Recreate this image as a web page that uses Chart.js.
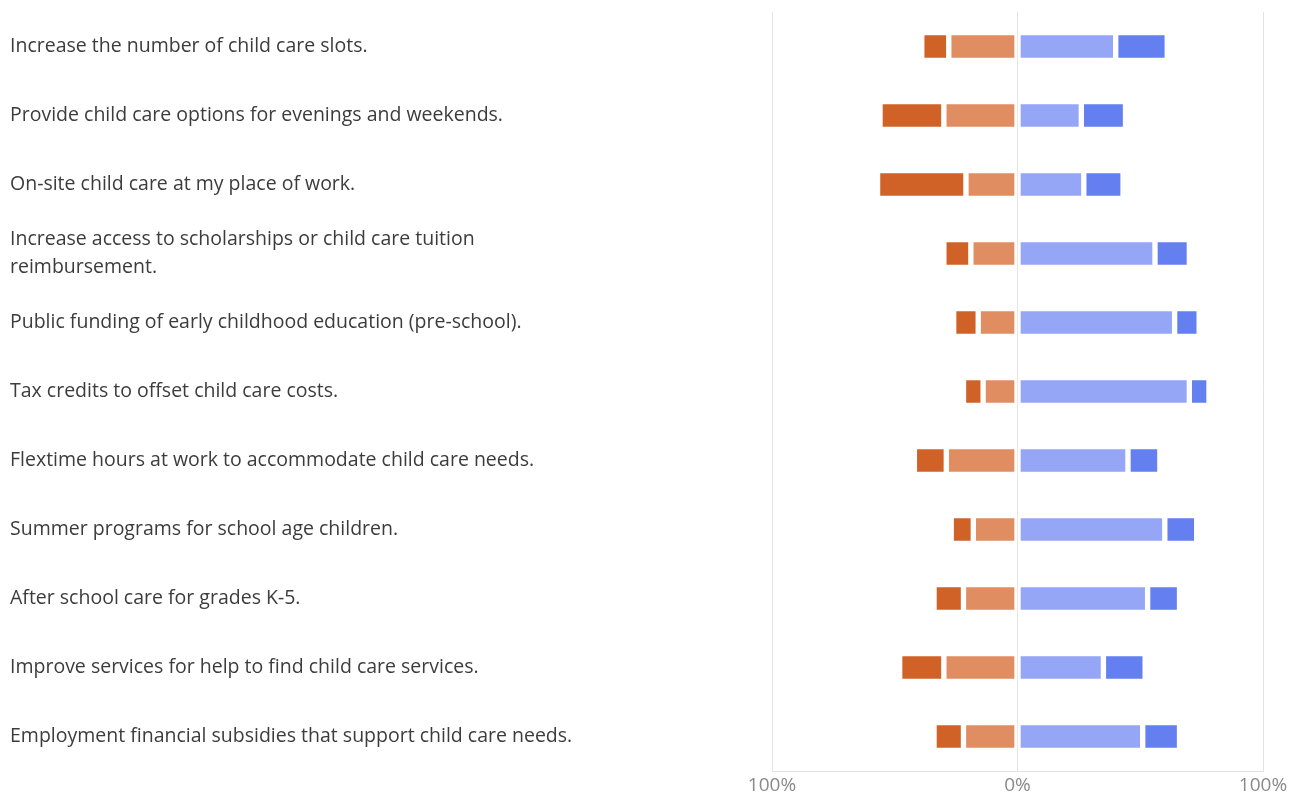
<!DOCTYPE html>
<html>
<head>
<meta charset="utf-8">
<script src="https://cdn.jsdelivr.net/npm/chart.js@4/dist/chart.umd.min.js"></script>
<style>
  html, body { margin: 0; padding: 0; background: #fff; }
  #wrap { width: 1298px; height: 798px; position: relative; }
</style>
</head>
<body>
<div id="wrap"><canvas id="likertChart"></canvas></div>
<script>
const categories = [
  'Increase the number of child care slots.',
  'Provide child care options for evenings and weekends.',
  'On-site child care at my place of work.',
  ['Increase access to scholarships or child care tuition', 'reimbursement.'],
  'Public funding of early childhood education (pre-school).',
  'Tax credits to offset child care costs.',
  'Flextime hours at work to accommodate child care needs.',
  'Summer programs for school age children.',
  'After school care for grades K-5.',
  'Improve services for help to find child care services.',
  'Employment financial subsidies that support child care needs.'
];

// percentages, negative side drawn to the left of 0
const disagree         = [28, 30, 21, 19, 16, 14, 29, 18, 22, 30, 22];
const stronglyDisagree = [11, 26, 36, 11, 10,  8, 13,  9, 12, 18, 12];
const agree            = [40, 26, 27, 56, 64, 70, 45, 60, 53, 35, 51];
const stronglyAgree    = [21, 18, 16, 14, 10,  8, 13, 13, 13, 17, 15];

const xTicks = [-100, 0, 100];

document.addEventListener("DOMContentLoaded", function () {
  const ctx = document.getElementById('likertChart').getContext('2d');

  const barStyle = {
    borderColor: '#ffffff',
    borderWidth: 3,
    borderRadius: 3,
    borderSkipped: false,
    barThickness: 28
  };

  new Chart(ctx, {
    type: 'bar',
    data: {
      labels: categories,
      datasets: [
        Object.assign({ label: 'Disagree', data: disagree.map(v => -v), backgroundColor: '#E08D62' }, barStyle),
        Object.assign({ label: 'Strongly disagree', data: stronglyDisagree.map(v => -v), backgroundColor: '#D06228' }, barStyle),
        Object.assign({ label: 'Agree', data: agree, backgroundColor: '#94A6F5' }, barStyle),
        Object.assign({ label: 'Strongly agree', data: stronglyAgree, backgroundColor: '#637FF0' }, barStyle)
      ]
    },
    options: {
      indexAxis: 'y',
      responsive: true,
      maintainAspectRatio: false,
      animation: false,
      layout: { padding: { left: 10, right: 35, top: 12, bottom: 0 } },
      plugins: {
        legend: { display: false },
        tooltip: { enabled: false }
      },
      scales: {
        x: {
          stacked: true,
          min: -100,
          max: 100,
          afterBuildTicks: function (scale) {
            scale.ticks = xTicks.map(v => ({ value: v }));
          },
          afterFit: function (scale) { scale.height = 27; },
          grid: { color: '#e3e3e3', lineWidth: 1, drawTicks: false },
          border: { color: '#e3e3e3' },
          ticks: {
            padding: 3,
            color: '#8a8a8a',
            font: { family: 'Open Sans', size: 19 },
            callback: function (v) { return Math.abs(v) + '%'; }
          }
        },
        y: {
          stacked: true,
          grid: { display: false, drawTicks: false },
          border: { display: false },
          afterFit: function (scale) {
            scale.width = 762;
            scale.paddingTop = 0;
            scale.paddingBottom = 0;
          },
          ticks: {
            crossAlign: 'far',
            color: '#3c3c3c',
            font: { family: 'Open Sans', size: 19.5, lineHeight: 1.42 }
          }
        }
      }
    }
  });
});
</script>
</body>
</html>
